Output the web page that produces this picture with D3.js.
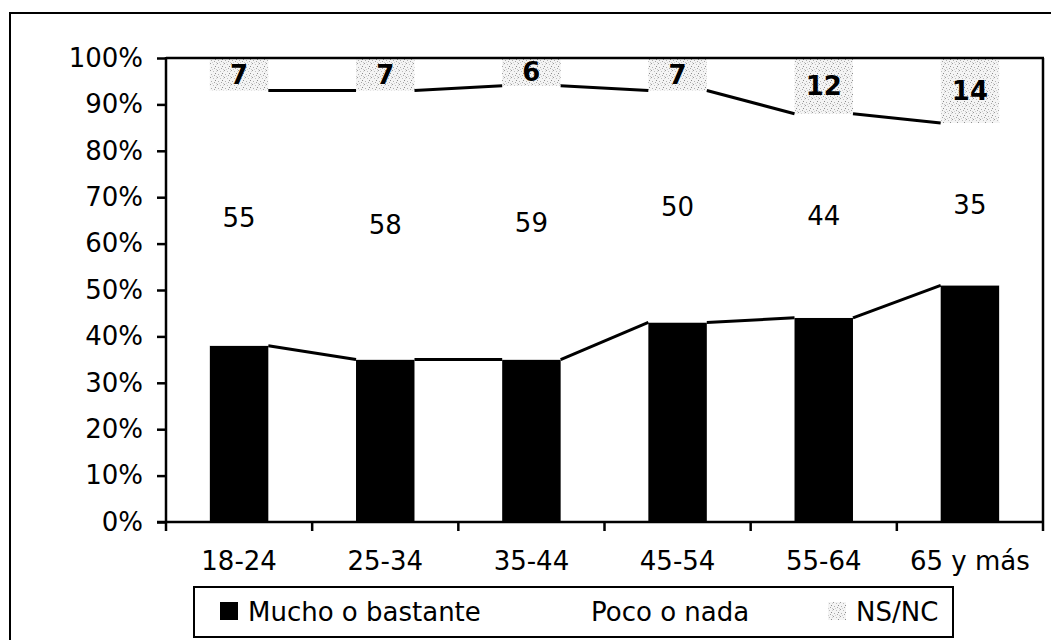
<!DOCTYPE html>
<html>
<head>
<meta charset="utf-8">
<script src="https://cdn.jsdelivr.net/npm/d3@7"></script>
<style>
  html, body { margin: 0; padding: 0; background: #fff; }
  svg { display: block; }
  text { font-family: "DejaVu Sans", Verdana, sans-serif; fill: #000; }
</style>
</head>
<body>
<svg id="chart" width="1051" height="640"></svg>
<script>
const categories = ["18-24", "25-34", "35-44", "45-54", "55-64", "65 y más"];
const mucho = [38, 35, 35, 43, 44, 51];
const poco = [55, 58, 59, 50, 44, 35];
const nsnc = [7, 7, 6, 7, 12, 14];
const seriesNames = ["Mucho o bastante", "Poco o nada", "NS/NC"];
const yTicks = [0, 10, 20, 30, 40, 50, 60, 70, 80, 90, 100];

const svg = d3.select("#chart");
const FONT = 26;

// speckle pattern for NS/NC
const defs = svg.append("defs");
const pat = defs.append("pattern").attr("id", "speckle")
  .attr("width", 7).attr("height", 7).attr("patternUnits", "userSpaceOnUse");
pat.append("rect").attr("width", 7).attr("height", 7).attr("fill", "#f4f4f4");
[[0,0,"#9a9a9a"],[3,1,"#bdbdbd"],[5,3,"#8c8c8c"],[1,4,"#b0b0b0"],[4,5,"#a5a5a5"],[6,6,"#c8c8c8"],[2,6,"#d0d0d0"],[6,1,"#d5d5d5"]]
  .forEach(([px, py, c]) => pat.append("rect").attr("x", px).attr("y", py).attr("width", 1).attr("height", 1).attr("fill", c));

// outer frame (right/bottom run outside view)
svg.append("rect").attr("x", 10).attr("y", 13).attr("width", 1060).attr("height", 650)
  .attr("fill", "none").attr("stroke", "#000").attr("stroke-width", 2);

const rows = categories.map((c, i) => ({ cat: c, m: mucho[i], p: poco[i], n: nsnc[i] }));
const stack = d3.stack().keys(["m", "p", "n"]);
const layers = stack(rows);

const x = d3.scaleBand().domain(categories).range([166, 1043]).paddingInner(0.6).paddingOuter(0.3);
const y = d3.scaleLinear().domain([0, 100]).range([522, 58]);
const fills = ["#000", "#fff", "url(#speckle)"];

// bars
layers.forEach((layer, li) => {
  svg.append("g").selectAll("rect").data(layer).enter().append("rect")
    .attr("x", d => x(d.data.cat))
    .attr("y", d => y(d[1]))
    .attr("width", x.bandwidth())
    .attr("height", d => y(d[0]) - y(d[1]))
    .attr("fill", fills[li]);
});

// series lines (connect tops of first two segments)
[0, 1].forEach(li => {
  const layer = layers[li];
  const g = svg.append("g");
  for (let i = 0; i < layer.length - 1; i++) {
    g.append("line")
      .attr("x1", x(categories[i]) + x.bandwidth()).attr("y1", y(layer[i][1]))
      .attr("x2", x(categories[i + 1])).attr("y2", y(layer[i + 1][1]))
      .attr("stroke", "#000").attr("stroke-width", 3);
  }
});

// plot area border top & right
svg.append("line").attr("x1", 166).attr("x2", 1044).attr("y1", y(100)).attr("y2", y(100))
  .attr("stroke", "#000").attr("stroke-width", 2.5);
svg.append("line").attr("x1", 1043).attr("x2", 1043).attr("y1", y(100)).attr("y2", y(0))
  .attr("stroke", "#000").attr("stroke-width", 2.5);

// y axis
const yAxis = svg.append("g").attr("transform", "translate(166,0)")
  .call(d3.axisLeft(y).tickValues(yTicks).tickFormat(d => d + "%").tickSize(9).tickPadding(14));
yAxis.select(".domain").remove();
yAxis.selectAll("line").attr("stroke", "#000").attr("stroke-width", 2.5);
yAxis.selectAll("text").style("font-size", FONT + "px").attr("font-family", null).attr("fill", "#000");
svg.append("line").attr("x1", 166).attr("x2", 166).attr("y1", y(100) - 1).attr("y2", y(0) + 1)
  .attr("stroke", "#000").attr("stroke-width", 2.5);

// x axis
const xAxis = svg.append("g").attr("transform", "translate(0,522)")
  .call(d3.axisBottom(x).tickSize(0).tickPadding(30));
xAxis.select(".domain").remove();
xAxis.selectAll("text").style("font-size", FONT + "px").attr("font-family", null).attr("fill", "#000");
svg.append("line").attr("x1", 157).attr("x2", 1044).attr("y1", 522).attr("y2", 522)
  .attr("stroke", "#000").attr("stroke-width", 2.5);
const boundaries = d3.range(categories.length + 1).map(i => x.range()[0] + i * x.step());
svg.append("g").selectAll("line").data(boundaries).enter().append("line")
  .attr("x1", d => d).attr("x2", d => d).attr("y1", 522).attr("y2", 531)
  .attr("stroke", "#000").attr("stroke-width", 2.5);

// data labels
const labelG = svg.append("g").attr("text-anchor", "middle");
[1, 2].forEach(li => {
  labelG.selectAll(null).data(layers[li]).enter().append("text")
    .attr("x", d => x(d.data.cat) + x.bandwidth() / 2)
    .attr("y", d => (y(d[0]) + y(d[1])) / 2)
    .attr("dy", "0.36em")
    .style("font-size", FONT + "px")
    .style("font-weight", li === 2 ? "bold" : "normal")
    .text(d => d[1] - d[0]);
});

// legend
const leg = svg.append("g");
leg.append("rect").attr("x", 194).attr("y", 587).attr("width", 759).attr("height", 50)
  .attr("fill", "#fff").attr("stroke", "#000").attr("stroke-width", 2);
const swFills = ["#000", "#fff", "url(#speckle)"];
const swX = [220, 563, 828];
seriesNames.forEach((name, i) => {
  leg.append("rect").attr("x", swX[i]).attr("y", 602).attr("width", 18).attr("height", 18).attr("fill", swFills[i]);
  leg.append("text").attr("x", swX[i] + 28).attr("y", 621).style("font-size", FONT + "px").text(name);
});
</script>
</body>
</html>
